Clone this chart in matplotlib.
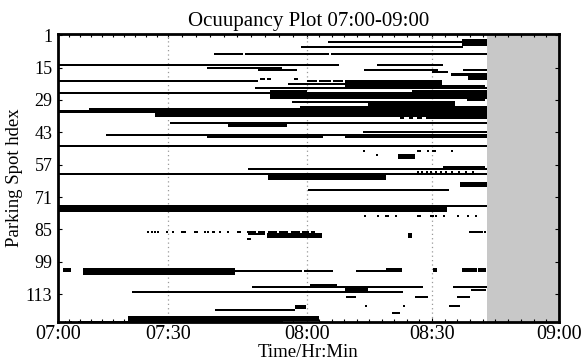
import numpy as np
import matplotlib
matplotlib.use("Agg")
import matplotlib.pyplot as plt

# time in minutes after 07:00
tick_min = [0, 30, 60, 90, 120]
tick_lbl = ["07:00", "07:30", "08:00", "08:30", "09:00"]
spot_ticks = [1, 15, 29, 43, 57, 71, 85, 99, 113]
n_spots = 125
data_end = 103  # recording stops around 08:43, rest is greyed out

# the original time axis is not evenly spaced, so map it piecewise
axis_knots = [0, 110, 249, 374, 501]

# (first spot, adjacent spots, start min, end min)
long_stays = [
    (3, 3, 97.1, 103), (4, 1, 65.0, 97.1), (6, 1, 58.7, 97.3),
    (9, 1, 39.9, 46.2), (9, 1, 46.6, 65.3), (9, 1, 65.8, 103),
    (14, 1, 0, 67.7), (14, 1, 76.8, 92.6), (15, 1, 38.4, 54.6),
    (16, 1, 49.4, 57.8), (16, 1, 73.7, 91.4), (16, 1, 97.3, 103),
    (17, 1, 90.0, 93.8), (18, 1, 94.5, 103), (19, 2, 98.5, 103),
    (21, 1, 0, 49.4), (21, 3, 69.1, 92.4), (22, 1, 55.9, 69.1),
    (23, 1, 92.4, 102.5), (24, 1, 48.8, 103),
    (25, 1, 52.0, 60.0), (25, 1, 85.2, 103), (26, 1, 0, 52.0),
    (26, 3, 52.0, 103),
    (29, 1, 98.3, 102.5), (30, 1, 56.8, 74.6), (30, 2, 74.6, 95.4),
    (32, 1, 58.5, 103), (33, 1, 8.5, 103), (34, 1, 0, 103),
    (35, 2, 26.5, 103), (37, 1, 90.0, 103),
    (39, 1, 30.4, 103), (39, 2, 42.9, 55.7),
    (43, 1, 73.4, 103), (44, 1, 13.1, 103),
    (45, 1, 38.4, 63.8), (45, 1, 69.1, 103), (49, 1, 0, 103),
    (53, 2, 81.8, 85.9), (58, 1, 92.6, 102.5), (59, 1, 47.2, 103),
    (61, 1, 0, 103), (62, 2, 51.6, 79.0), (65, 2, 96.6, 103),
    (68, 1, 60.2, 94.0), (75, 3, 0, 93.5), (75, 1, 93.5, 103),
    (87, 1, 47.2, 51.0), (87, 2, 51.4, 63.6), (86, 1, 98.7, 102.0),
    (102, 3, 6.8, 44.5), (103, 1, 44.5, 58.9), (103, 1, 59.3, 66.2),
    (103, 1, 71.8, 82.8), (102, 1, 79.0, 82.8),
    (102, 2, 97.1, 100.6), (102, 2, 100.9, 102.7),
    (109, 1, 60.7, 67.2), (110, 1, 48.1, 87.8), (110, 2, 69.1, 74.6),
    (110, 1, 95.0, 103), (111, 1, 99.2, 102.7), (112, 1, 20.2, 83.0),
    (114, 1, 85.9, 89.0), (114, 1, 95.9, 99.0),
    (118, 1, 94.0, 96.6), (120, 1, 40.1, 57.4),
    (123, 2, 19.1, 62.9), (125, 1, 5.5, 54.9),
]

# short parkings / flickering detections
short_stays = [
    (20, 1, 49.9, 51.0), (20, 1, 51.4, 52.3), (20, 1, 57.2, 58.0),
    (21, 1, 60.0, 62.5), (21, 1, 63.0, 65.8), (21, 1, 66.3, 68.6),
    (37, 1, 82.3, 83.3), (37, 1, 84.5, 85.5), (37, 1, 86.5, 87.5), (37, 1, 88.5, 90.0),
    (86, 1, 47.0, 49.0), (86, 1, 49.5, 51.0), (86, 1, 51.5, 53.5), (86, 1, 54.0, 56.0),
    (86, 1, 56.5, 58.5), (86, 1, 59.0, 60.5), (86, 1, 61.0, 62.0),
    (89, 1, 47.0, 47.9), (87, 2, 84.2, 85.2),
    (102, 2, 1.4, 3.5), (102, 2, 90.2, 91.2),
    (114, 1, 69.4, 71.8), (118, 2, 57.4, 59.8), (121, 1, 80.4, 82.3),
]

# single sensor blips: (spot, minute)
blips = [
    (51, 73.7), (51, 86.6), (51, 87.0), (51, 89.0), (51, 90.3), (51, 90.7), (51, 94.7),
    (53, 76.8),
    (60, 86.6), (60, 87.6), (60, 88.8), (60, 89.8), (60, 91.0), (60, 92.1),
    (60, 93.3), (60, 94.7), (60, 96.3), (60, 98.0), (60, 99.7),
    (79, 74.0), (79, 77.0), (79, 79.0), (79, 79.5), (79, 81.4), (79, 86.6), (79, 87.2),
    (79, 89.7), (79, 90.3), (79, 90.9), (79, 92.8), (79, 96.1), (79, 98.5), (79, 100.4),
    (86, 24.5), (86, 25.6), (86, 26.5), (86, 27.3), (86, 29.7), (86, 31.1), (86, 33.1),
    (86, 33.7), (86, 35.9), (86, 36.3), (86, 38.0), (86, 38.7), (86, 39.8), (86, 41.3),
    (86, 43.0), (86, 45.0), (86, 45.6), (86, 102.5),
    (118, 74.2), (118, 83.3), (125, 2.0), (125, 3.5),
]

plt.rcParams['font.family'] = ['Liberation Serif', 'DejaVu Serif']

fig = plt.figure(figsize=(5.84, 3.61), dpi=100)
ax = fig.add_axes([0.0993, 0.108, 0.8578, 0.7978])

fwd = lambda m: np.interp(m, tick_min, axis_knots)
inv = lambda p: np.interp(p, axis_knots, tick_min)
ax.set_xscale('function', functions=(fwd, inv))

# a single spot is drawn slightly thinner than its row so neighbours stay apart
for s, n, t0, t1 in long_stays + short_stays:
    h = n if n > 1 else 0.9
    ax.barh(s + (n - 1) / 2, t1 - t0, left=t0, height=h,
            color='black', linewidth=0, zorder=3)
for s, t in blips:
    ax.barh(s, 0.45, left=t - 0.2, height=0.9, color='black', linewidth=0, zorder=3)

ax.axvspan(data_end, 120, color='#c8c8c8', linewidth=0, zorder=1)
for t in tick_min[1:-1]:
    ax.axvline(t, color='#999999', linestyle=(0, (1, 2.5)), linewidth=0.9, zorder=2)

ax.set_xlim(0, 120)
ax.set_ylim(n_spots, 0.5)
ax.set_xticks(tick_min)
ax.set_xticklabels(tick_lbl)
ax.set_xticks(np.arange(0, 121, 3), minor=True)
ax.set_yticks(spot_ticks)
ax.tick_params(axis='both', which='both', direction='in', top=True, right=True,
               labelsize=13, width=0.8)
ax.tick_params(axis='x', which='major', length=3, pad=2, labelsize=14.5)
ax.tick_params(axis='x', which='minor', length=2)
ax.tick_params(axis='y', length=3, pad=4)

for sp in ax.spines.values():
    sp.set_linewidth(2.0)

ax.set_title('Ocuupancy Plot 07:00-09:00', fontsize=15, pad=6)
ax.set_xlabel('Time/Hr:Min', fontsize=13.5, labelpad=0)
ax.set_ylabel('Parking Spot hdex', fontsize=13.5, labelpad=2)

fig.savefig('out.png', dpi=100)
